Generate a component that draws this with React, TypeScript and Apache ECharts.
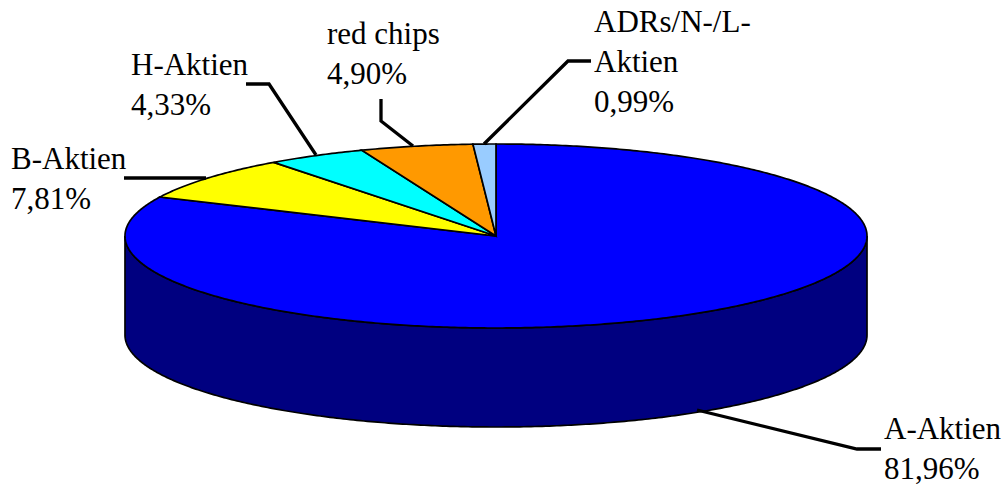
import React, { useEffect, useRef } from "react";
import * as echarts from "echarts";

const categories = ["A-Aktien", "B-Aktien", "H-Aktien", "red chips", "ADRs/N-/L-Aktien"];
const values = [81.96, 7.81, 4.33, 4.9, 0.99];
const labelLines = [
  ["A-Aktien", "81,96%"],
  ["B-Aktien", "7,81%"],
  ["H-Aktien", "4,33%"],
  ["red chips", "4,90%"],
  ["ADRs/N-/L-", "Aktien", "0,99%"],
];
const colors = ["#0000ff", "#ffff00", "#00ffff", "#ff9900", "#99ccff"];
const SIDE = "#000080";
const labelAnchors = [
  [884, 428],
  [11, 158],
  [131, 64],
  [327, 33],
  [594, 21],
];
const leaderPoints = [
  [[697, 410], [857, 449], [881, 449]],
  [[206, 178], [124, 178]],
  [[316, 155], [269, 84], [246, 84]],
  [[413, 146], [381, 121], [381, 99]],
  [[484, 144], [568, 61], [591, 61]],
];

const CX = 496, CY = 236, RX = 371, RY = 92, DEPTH = 99;
const FONT_SIZE = 31, LINE_GAP = 40;

function pt(t: number, dy = 0) {
  return [CX + RX * Math.sin(t), CY - RY * Math.cos(t) + dy];
}

function arcPoints(a: number, b: number, dy = 0) {
  const n = Math.max(2, Math.ceil(Math.abs(b - a) / 0.01));
  const out: number[][] = [];
  for (let i = 0; i <= n; i++) out.push(pt(a + ((b - a) * i) / n, dy));
  return out;
}

function renderItem(params: any, api: any) {
  const idx = params.dataIndex;
  const total = values.reduce((s, v) => s + v, 0);
  let before = 0;
  for (let i = 0; i < idx; i++) before += values[i];
  const a = (before / total) * Math.PI * 2;
  const b = ((before + (api.value(0) as number)) / total) * Math.PI * 2;
  const children: any[] = [];
  const lo = Math.max(a, Math.PI / 2);
  const hi = Math.min(b, (Math.PI * 3) / 2);
  if (hi > lo) {
    const top = arcPoints(lo, hi);
    const bottom = arcPoints(hi, lo, DEPTH);
    children.push({
      type: "polygon",
      shape: { points: top.concat(bottom) },
      style: { fill: SIDE, stroke: "#000", lineWidth: 1.7 },
    });
  }
  children.push({
    type: "polygon",
    shape: { points: [[CX, CY], ...arcPoints(a, b)] },
    style: { fill: colors[idx], stroke: "#000", lineWidth: 1.7 },
  });
  children.push({
    type: "polyline",
    silent: true,
    shape: { points: leaderPoints[idx] },
    style: { stroke: "#000", lineWidth: 3.3, fill: "none" },
  });
  labelLines[idx].forEach((line, i) => {
    children.push({
      type: "text",
      style: {
        x: labelAnchors[idx][0],
        y: labelAnchors[idx][1] + i * LINE_GAP,
        text: line,
        fontFamily: "Liberation Serif",
        fontSize: FONT_SIZE,
        fill: "#000",
        textAlign: "left",
        textVerticalAlign: "middle",
      },
    });
  });
  return { type: "group", children };
}

export default function App() {
  const ref = useRef<HTMLDivElement>(null);
  useEffect(() => {
    if (!ref.current) return;
    const chart = echarts.init(ref.current, undefined, { renderer: "svg" });
    chart.setOption({
      animation: false,
      backgroundColor: "#fff",
      series: [
        {
          type: "custom",
          coordinateSystem: "none",
          renderItem,
          data: categories.map((name, i) => ({ name, value: [values[i]] })),
        },
      ],
    });
    return () => chart.dispose();
  }, []);
  return <div ref={ref} style={{ position: "fixed", left: 0, top: 0, width: 1002, height: 484 }} />;
}
